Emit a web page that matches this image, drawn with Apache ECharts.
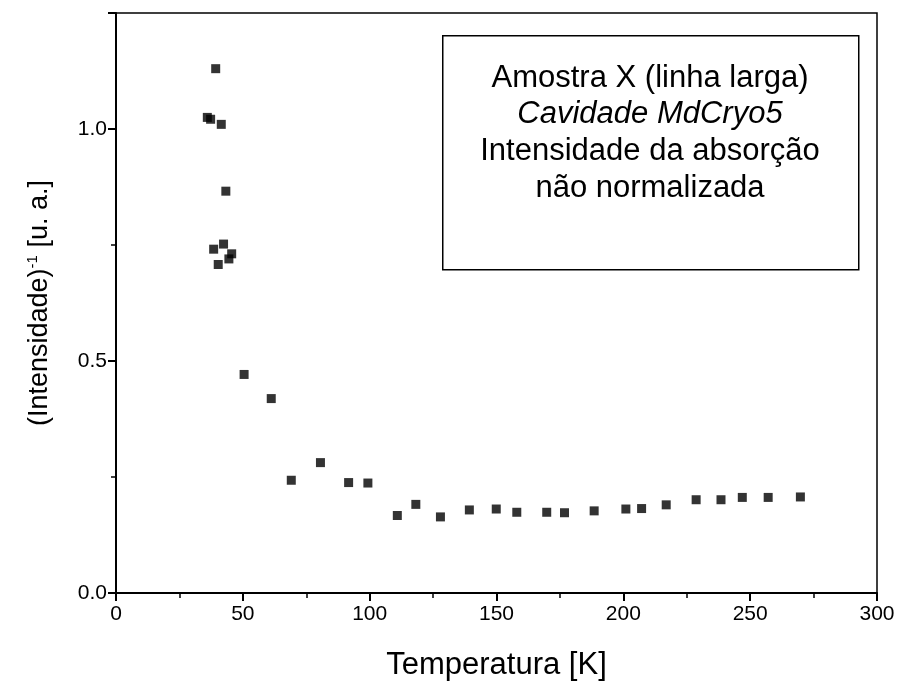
<!DOCTYPE html>
<html>
<head>
<meta charset="utf-8">
<script src="https://cdn.jsdelivr.net/npm/echarts@6/dist/echarts.min.js"></script>
<style>html,body{margin:0;padding:0;background:#fff}#c{width:899px;height:688px}</style>
</head>
<body>
<div id="c"></div>
<script>
var temperatura = [36.0, 37.3, 39.3, 41.5, 43.3, 42.4, 38.5, 45.6, 44.5, 40.3,
  50.5, 61.2, 69.1, 80.6, 91.7, 99.3, 110.9, 118.2, 127.9, 139.3,
  149.9, 158.0, 169.8, 176.8, 188.5, 201.0, 207.2, 216.9, 228.7, 238.5, 246.9, 257.1, 269.8];
var intensidadeInv = [1.025, 1.021, 1.130, 1.010, 0.866, 0.752, 0.741, 0.731, 0.720, 0.708,
  0.471, 0.419, 0.243, 0.281, 0.238, 0.237, 0.167, 0.191, 0.164, 0.179,
  0.181, 0.174, 0.174, 0.173, 0.177, 0.181, 0.182, 0.190, 0.201, 0.201, 0.206, 0.206, 0.207];
var xTicks = [0, 50, 100, 150, 200, 250, 300];
var yTicks = [0.0, 0.5, 1.0];
var boxLines = ['Amostra X (linha larga)', 'Cavidade MdCryo5', 'Intensidade da absorção', 'não normalizada'];

var pts = temperatura.map(function (t, i) { return [t, intensidadeInv[i]]; });
var FONT = '"Liberation Sans", Arial, sans-serif';
var chart = echarts.init(document.getElementById('c'), null, {renderer: 'canvas'});
chart.setOption({
  animation: false,
  backgroundColor: '#fff',
  grid: {left: 116, right: 22, top: 13, bottom: 95, show: true, borderColor: '#000', borderWidth: 1.5},
  xAxis: {
    type: 'value', min: 0, max: 300, interval: 50,
    name: 'Temperatura [K]', nameLocation: 'middle', nameGap: 57,
    nameTextStyle: {fontFamily: FONT, fontSize: 31, color: '#000'},
    axisLine: {show: true, onZero: false, lineStyle: {color: '#000', width: 2}},
    axisTick: {show: true, inside: false, length: 8, lineStyle: {color: '#000', width: 2}},
    minorTick: {show: true, splitNumber: 2, length: 5, lineStyle: {color: '#000', width: 1.5}},
    splitLine: {show: false},
    axisLabel: {margin: 11, fontFamily: FONT, fontSize: 21, color: '#000',
      formatter: function (v) { return xTicks.indexOf(v) >= 0 ? String(v) : ''; }}
  },
  yAxis: {
    type: 'value', min: 0, max: 1.25, interval: 0.5,
    name: '(Intensidade){sup|-1} [u. a.]', nameLocation: 'middle', nameGap: 62, nameRotate: 90,
    nameTextStyle: {fontFamily: FONT, fontSize: 27, color: '#000',
      rich: {sup: {fontFamily: FONT, fontSize: 15, color: '#000', verticalAlign: 'top', padding: [0, 0, 14, 0]}}},
    axisLine: {show: true, onZero: false, lineStyle: {color: '#000', width: 2}},
    axisTick: {show: true, inside: false, length: 8, lineStyle: {color: '#000', width: 2}},
    minorTick: {show: true, splitNumber: 2, length: 5, lineStyle: {color: '#000', width: 1.5}},
    splitLine: {show: false},
    axisLabel: {margin: 9, fontFamily: FONT, fontSize: 21, color: '#000',
      formatter: function (v) {
        for (var i = 0; i < yTicks.length; i++) { if (Math.abs(yTicks[i] - v) < 1e-9) return yTicks[i].toFixed(1); }
        return '';
      }}
  },
  series: [{
    type: 'scatter', data: pts, symbol: 'rect', symbolSize: 9,
    itemStyle: {color: '#000'}
  }],
  graphic: [
    {type: 'rect', left: 442, top: 35, shape: {width: 416, height: 234},
      style: {fill: '#fff', stroke: '#000', lineWidth: 1.5}, z: 10},
    {type: 'text', x: 650, y: 78, z: 11, style: {text: boxLines[0], font: '31px ' + FONT, fill: '#000', align: 'center', verticalAlign: 'middle'}},
    {type: 'text', x: 650, y: 114, z: 11, style: {text: boxLines[1], font: 'italic 31px ' + FONT, fill: '#000', align: 'center', verticalAlign: 'middle'}},
    {type: 'text', x: 650, y: 151, z: 11, style: {text: boxLines[2], font: '31px ' + FONT, fill: '#000', align: 'center', verticalAlign: 'middle'}},
    {type: 'text', x: 650, y: 188, z: 11, style: {text: boxLines[3], font: '31px ' + FONT, fill: '#000', align: 'center', verticalAlign: 'middle'}}
  ]
});
</script>
</body>
</html>
